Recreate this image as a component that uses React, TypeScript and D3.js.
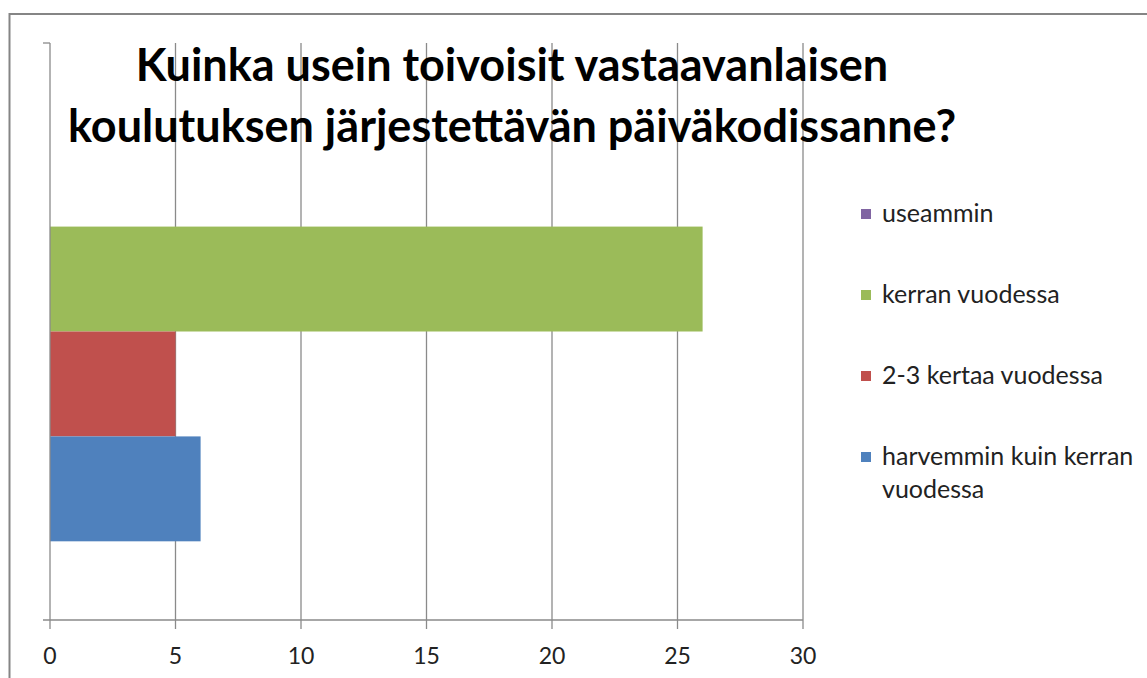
import React from "react";
import * as d3 from "d3";

const titleLines = ["Kuinka usein toivoisit vastaavanlaisen", "koulutuksen järjestettävän päiväkodissanne?"];
// series in legend order (top to bottom)
const seriesNames = ["useammin", "kerran vuodessa", "2-3 kertaa vuodessa", "harvemmin kuin kerran vuodessa"];
const seriesValues = [0, 26, 5, 6];
const seriesColors = ["#8064A2", "#9BBB59", "#C0504D", "#4F81BD"];
const legendLines = [["useammin"], ["kerran vuodessa"], ["2-3 kertaa vuodessa"], ["harvemmin kuin kerran", "vuodessa"]];
const xTicks = [0, 5, 10, 15, 20, 25, 30];

const W = 1147;
const H = 678;
const plotLeft = 50;
const plotRight = 803;
const plotTop = 43;
const plotBottom = 620;
const font = "Lato, 'Open Sans', sans-serif";

export default function App() {
  const x = d3.scaleLinear().domain([0, 30]).range([plotLeft, plotRight]);
  const bottomFirst = [...seriesNames].reverse();
  const y = d3
    .scaleBand<string>()
    .domain(bottomFirst)
    .range([plotBottom, plotTop])
    .paddingInner(0)
    .paddingOuter(0.75);
  const bw = y.bandwidth();
  const axisColor = "#8a8a8a";

  return (
    <svg
      width={W}
      height={H}
      style={{ position: "absolute", left: 0, top: 0, background: "#fff" }}
      fontFamily={font}
    >
      <rect x={0} y={0} width={W} height={H} fill="#fff" />
      <rect x={9.5} y={14} width={W + 20} height={H + 20} fill="none" stroke="#858585" strokeWidth={2} />

      {xTicks.slice(1).map((t) => (
        <line key={"g" + t} x1={x(t)} x2={x(t)} y1={plotTop} y2={plotBottom} stroke={axisColor} strokeWidth={1.3} />
      ))}

      {seriesNames.map((s, i) => {
        const v = seriesValues[i];
        if (v <= 0) return null;
        const yy = y(s)!;
        return (
          <rect
            key={s}
            x={x(0)}
            y={yy}
            width={x(v) - x(0)}
            height={bw}
            fill={seriesColors[i]}
          />
        );
      })}

      <line x1={plotLeft} x2={plotLeft} y1={plotTop} y2={plotBottom} stroke={axisColor} strokeWidth={1.3} />
      <line x1={plotLeft - 7} x2={plotLeft} y1={plotTop} y2={plotTop} stroke={axisColor} strokeWidth={1.3} />
      <line x1={plotLeft - 7} x2={plotRight} y1={plotBottom} y2={plotBottom} stroke={axisColor} strokeWidth={1.3} />
      {xTicks.map((t) => (
        <g key={"t" + t}>
          <line x1={x(t)} x2={x(t)} y1={plotBottom} y2={plotBottom + 9} stroke={axisColor} strokeWidth={1.3} />
          <text x={x(t)} y={664} textAnchor="middle" fontSize={23} fill="#222">
            {t}
          </text>
        </g>
      ))}

      {titleLines.map((l, i) => (
        <text
          key={l}
          x={512}
          y={81 + i * 61}
          textAnchor="middle"
          fontSize={45}
          fontWeight="bold"
          fill="#000"
        >
          {l}
        </text>
      ))}

      {seriesNames.map((s, i) => {
        const cy = 214 + i * 81;
        return (
          <g key={"lg" + s}>
            <rect x={861} y={cy - 5} width={10} height={10} fill={seriesColors[i]} />
            {legendLines[i].map((ln, j) => (
              <text key={ln} x={882} y={cy + 8 + j * 33} fontSize={25} fill="#222">
                {ln}
              </text>
            ))}
          </g>
        );
      })}
    </svg>
  );
}
